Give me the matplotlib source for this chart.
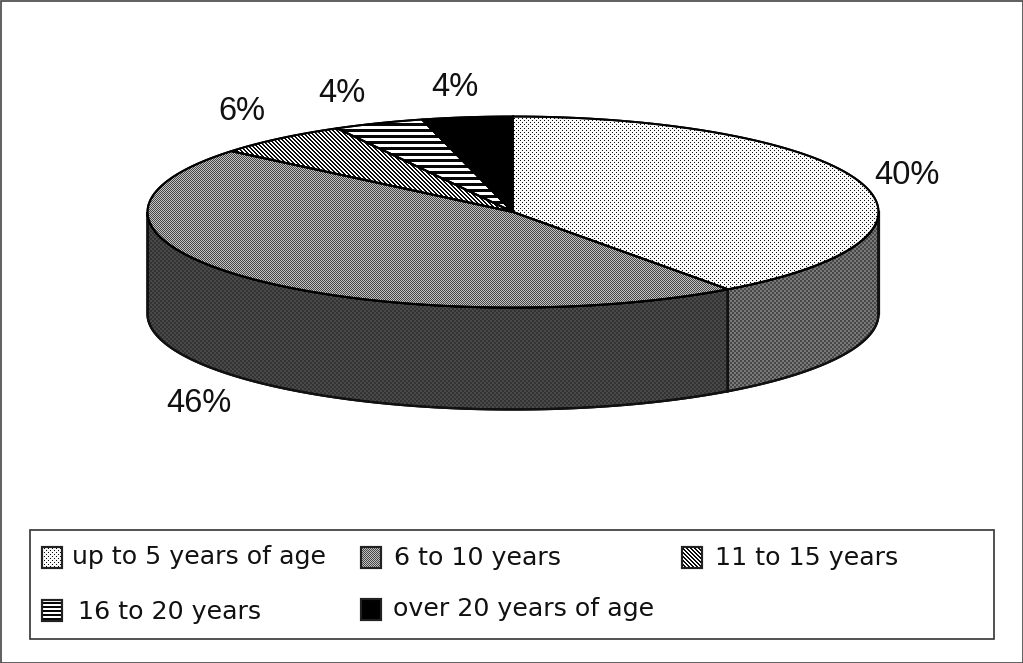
import numpy as np
import matplotlib
matplotlib.use("Agg")
import matplotlib.pyplot as plt
from matplotlib.patches import Polygon, Rectangle

categories = ["up to 5 years of age", "6 to 10 years", "11 to 15 years",
              "16 to 20 years", "over 20 years of age"]
values = [40, 46, 6, 4, 4]
pct_labels = ["40%", "46%", "6%", "4%", "4%"]

W, H = 1023, 663
CX, CY, RX, RY, DEPTH = 513, 212, 365.5, 95.5, 102

fig = plt.figure(figsize=(W / 100, H / 100), dpi=100)
ax = fig.add_axes([0, 0, 1, 1])
ax.set_xlim(0, W)
ax.set_ylim(H, 0)
ax.axis("off")


def tile_fill(patch, kind, hperiod=6):
    """Fill a patch with a pixel-level stipple pattern."""
    yy, xx = np.mgrid[0:H, 0:W]
    if kind == "dots":
        on = ((xx % 4 == 0) & (yy % 4 == 0)) | ((xx % 4 == 2) & (yy % 4 == 2))
        img = np.where(on, 0.05, 0.98)
    elif kind == "checker":
        img = np.where((xx + yy) % 2 == 0, 0.28, 0.76)
    elif kind == "side_light":
        img = np.where((xx // 2 + yy // 2) % 2 == 0, 0.28, 0.48)
    elif kind == "side_dark":
        img = np.where((xx // 2 + yy // 2) % 2 == 0, 0.20, 0.29)
    elif kind == "diag":
        img = np.where((xx - yy) % 4 < 2, 1.0, 0.05)
    elif kind == "horiz":
        img = np.where(yy % hperiod < hperiod // 2, 1.0, 0.03)
    else:
        img = np.zeros((H, W))
    im = ax.imshow(img, cmap="gray", vmin=0, vmax=1, extent=(0, W, H, 0),
                   interpolation="nearest", zorder=patch.get_zorder())
    ax.add_patch(patch)
    im.set_clip_path(patch)
    ax.set_xlim(0, W)
    ax.set_ylim(H, 0)


def rim(theta):
    return CX + RX * np.sin(theta), CY - RY * np.cos(theta)


top_kinds = ["dots", "checker", "diag", "horiz", "solid"]
side_kinds = ["side_light", "side_dark", None, None, None]

edges = np.concatenate([[0], np.cumsum(values)]) / np.sum(values) * 2 * np.pi

# Side walls (visible only for the front half of the ellipse)
for i, kind in enumerate(side_kinds):
    if kind is None:
        continue
    a, b = max(edges[i], np.pi / 2), min(edges[i + 1], 3 * np.pi / 2)
    if a >= b:
        continue
    th = np.linspace(a, b, 120)
    x, y = rim(th)
    pts = np.r_[np.c_[x, y], np.c_[x[::-1], y[::-1] + DEPTH]]
    p = Polygon(pts, closed=True, fc="none", ec="black", lw=1.6, zorder=2)
    tile_fill(p, kind)
    ax.add_patch(Polygon(pts, closed=True, fc="none", ec="#111111", lw=1.6, zorder=3))

# Right wall edge
xr, yr = rim(np.pi / 2)
ax.plot([xr, xr], [yr, yr + DEPTH], color="#111111", lw=1.6, zorder=3)

# Top face
for i, kind in enumerate(top_kinds):
    th = np.linspace(edges[i], edges[i + 1], 160)
    x, y = rim(th)
    pts = np.r_[[[CX, CY]], np.c_[x, y]]
    p = Polygon(pts, closed=True, fc="none", ec="black", lw=1.4, zorder=4)
    tile_fill(p, kind)
    ax.add_patch(Polygon(pts, closed=True, fc="none", ec="black", lw=1.4, zorder=5))

# Percentage labels
pct_pos = [(907, 175), (199, 403), (242, 111), (342, 94), (455, 88)]
for s, (x, y) in zip(pct_labels, pct_pos):
    ax.text(x, y, s, fontsize=23.5, family="Liberation Sans", ha="center",
            va="center", color="#111111", zorder=6)

# Frame and legend box
ax.add_patch(Rectangle((0.5, 0.5), W - 1, H - 1, fc="none", ec="#444444", lw=1.2, zorder=7))
ax.add_patch(Rectangle((30, 530), 964, 109, fc="white", ec="#333333", lw=1.2, zorder=6))

swatches = [(42, 547), (361, 547), (682, 547), (42, 600), (361, 599)]
text_pos = [(72, 557), (394, 558), (715, 558), (78, 612), (393, 609)]
for kind, (sx, sy), (tx, ty), name in zip(top_kinds, swatches, text_pos, categories):
    r = Rectangle((sx, sy), 20, 21, fc="none", ec="#222222", lw=1.5, zorder=7)
    tile_fill(r, kind, hperiod=4)
    ax.add_patch(Rectangle((sx, sy), 20, 21, fc="none", ec="#222222", lw=1.5, zorder=8))
    ax.text(tx, ty, name, fontsize=18.15, family="DejaVu Sans", ha="left", va="center",
            color="#111111", zorder=8)

fig.savefig("out.png", dpi=100, facecolor="white")
